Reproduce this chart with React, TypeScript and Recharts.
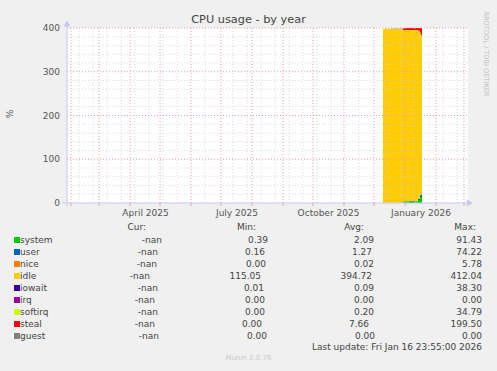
import React from 'react';
import {
    AreaChart,
    Area,
    XAxis,
    YAxis,
    ReferenceLine,
    ReferenceDot,
} from 'recharts';

// x values are days counted from 1 Feb 2025 (one pixel per day in the original)
const days = [312, 320, 326, 332, 338, 344, 347, 349, 350, 351];
const system = [0.4, 0.4, 0.5, 3.4, 3.6, 3.5, 7.0, 12.0, 14.0, 14.0];
const user = [0.2, 0.2, 0.3, 0.6, 0.7, 0.6, 3.0, 6.0, 8.0, 8.0];
const nice = [0, 0, 0, 0, 0.02, 0, 0, 0.1, 0, 0];
const idle = [397.5, 397.4, 397.2, 391.5, 391.2, 391.4, 383.0, 370.0, 360.0, 360.0];
const iowait = [0.01, 0.02, 0.02, 0.05, 0.06, 0.05, 0.2, 0.8, 1.0, 1.0];
const irq = [0, 0, 0, 0, 0, 0, 0, 0, 0, 0];
const softirq = [0, 0, 0, 0.1, 0.1, 0.1, 0.3, 0.6, 0.8, 0.8];
const steal = [0, 0, 0, 4.3, 4.3, 4.3, 6.5, 10.5, 16.0, 16.0];
const guest = [0, 0, 0, 0, 0, 0, 0, 0, 0, 0];

const seriesNames = ['system', 'user', 'nice', 'idle', 'iowait', 'irq', 'softirq', 'steal', 'guest'];
const seriesColors = ['#00cc00', '#0066b3', '#ff8000', '#ffcc00', '#330099', '#990099', '#ccff00', '#ff0000', '#808080'];
const curValues = ['-nan', '-nan', '-nan', '-nan', '-nan', '-nan', '-nan', '-nan', '-nan'];
const minValues = ['0.39', '0.16', '0.00', '115.05', '0.01', '0.00', '0.00', '0.00', '0.00'];
const avgValues = ['2.09', '1.27', '0.02', '394.72', '0.09', '0.00', '0.20', '7.66', '0.00'];
const maxValues = ['91.43', '74.22', '5.78', '412.04', '38.30', '0.00', '34.79', '199.50', '0.00'];

// axis labels sit mid-month, grid lines on month starts
const xLabelDays = [74.5, 166, 257.5, 350];
const xLabels = ['April 2025', 'July 2025', 'October 2025', 'January 2026'];
const monthStarts = [0, 28, 59, 89, 120, 150, 181, 212, 242, 273, 303, 334, 365, 393];
const minorDays = [8, 22, 36, 50, 64, 78, 92, 106, 134, 162, 176, 190, 204, 218, 232, 246, 260, 288, 316, 330, 344, 358, 372, 386];
const yTicks = [0, 100, 200, 300, 400];
const yMinor = [20, 40, 60, 80, 120, 140, 160, 180, 220, 240, 260, 280, 320, 340, 360, 380];

// legend layout (right edges of the columns, per row, as rrdtool puts them)
const curRight = [162, 158, 157, 150, 158, 155, 158, 155, 159];
const minRight = [268, 265, 266, 261, 264, 265, 265, 262, 267];
const avgRight = [374, 372, 374, 372, 374, 374, 374, 369, 375];

const data = days.map((d, i) => ({
    day: d,
    system: system[i],
    user: user[i],
    nice: nice[i],
    idle: idle[i],
    iowait: iowait[i],
    irq: irq[i],
    softirq: softirq[i],
    steal: steal[i],
    guest: guest[i],
}));

const W = 497;
const H = 371;
const AXIS = '#c6c6f2';
const MAJOR = '#e8a0a0';
const MINOR = '#cfcfcf';

const Txt = ({right, left, cy, children, size = 9, color = '#444'}: any) => (
    <div
        style={{
            position: 'absolute',
            top: cy - 6,
            lineHeight: '12px',
            fontSize: size,
            color,
            whiteSpace: 'nowrap',
            ...(right !== undefined ? {right: W - right} : {left}),
        }}
    >
        {children}
    </div>
);

export default function App() {
    const rowY = (i: number) => 239.5 + i * 12;
    return (
        <div
            style={{
                position: 'relative',
                width: W,
                height: H,
                background: '#f0f0f0',
                overflow: 'hidden',
                fontFamily: '"DejaVu Sans", sans-serif',
            }}
        >
            <style>{'body{margin:0}'}</style>
            <div style={{position: 'absolute', left: 67, top: 28, width: 401, height: 175, background: '#fff'}} />
            <div style={{position: 'absolute', left: 0, top: 0}}>
                <AreaChart
                    width={W}
                    height={H}
                    data={data}
                    margin={{top: 28, right: 29, left: 27, bottom: 154}}
                >
                    <XAxis
                        type="number"
                        dataKey="day"
                        domain={[-4, 397]}
                        allowDataOverflow
                        ticks={xLabelDays}
                        interval={0}
                        tickFormatter={(v: number) => xLabels[xLabelDays.indexOf(v)]}
                        axisLine={false}
                        tickLine={false}
                        tickSize={4}
                        tickMargin={3}
                        height={14}
                        tick={{fill: '#555', fontSize: 9}}
                    />
                    <YAxis
                        type="number"
                        domain={[0, 400]}
                        allowDataOverflow
                        ticks={yTicks}
                        interval={0}
                        axisLine={false}
                        tickLine={false}
                        tickSize={4}
                        tickMargin={3}
                        width={40}
                        tick={{fill: '#555', fontSize: 9}}
                    />
                    {seriesNames.map((name, i) => (
                        <Area
                            key={name}
                            type="stepAfter"
                            dataKey={name}
                            stackId="cpu"
                            stroke="none"
                            fill={seriesColors[i]}
                            fillOpacity={1}
                            dot={false}
                            activeDot={false}
                            isAnimationActive={false}
                        />
                    ))}
                    {yMinor.map((v) => (
                        <ReferenceLine key={'ym' + v} y={v} stroke={MINOR} strokeOpacity={0.8} strokeDasharray="1 2" />
                    ))}
                    {minorDays.map((d) => (
                        <ReferenceLine key={'xm' + d} x={d} stroke={MINOR} strokeOpacity={0.8} strokeDasharray="1 2" />
                    ))}
                    {yTicks.slice(1).map((v) => (
                        <ReferenceLine key={'yM' + v} y={v} stroke={MAJOR} strokeDasharray="1 2" />
                    ))}
                    {monthStarts.map((d) => (
                        <ReferenceLine key={'xM' + d} x={d} stroke={MAJOR} strokeDasharray="1 2" />
                    ))}
                    {monthStarts.map((d) => (
                        <ReferenceLine
                            key={'xt' + d}
                            segment={[{x: d, y: -7}, {x: d, y: 0}]}
                            stroke={MAJOR}
                            ifOverflow="visible"
                        />
                    ))}
                    <ReferenceLine segment={[{x: -9, y: 0}, {x: 397, y: 0}]} stroke={AXIS} ifOverflow="visible" />
                    <ReferenceLine segment={[{x: -4, y: -8}, {x: -4, y: 405}]} stroke={AXIS} ifOverflow="visible" />
                    <ReferenceDot
                        x={402}
                        y={0}
                        r={3}
                        ifOverflow="visible"
                        shape={(p: any) => <path d={`M${p.cx},${p.cy} l-6,-3.5 l0,7 z`} fill={AXIS} />}
                    />
                    <ReferenceDot
                        x={-4}
                        y={417}
                        r={3}
                        ifOverflow="visible"
                        shape={(p: any) => <path d={`M${p.cx},${p.cy} l-3.5,6 l7,0 z`} fill={AXIS} />}
                    />
                </AreaChart>
            </div>

            <div
                style={{
                    position: 'absolute',
                    left: 0,
                    width: W,
                    top: 13,
                    textAlign: 'center',
                    fontSize: 11.3,
                    lineHeight: '14px',
                    color: '#444',
                }}
            >
                CPU usage - by year
            </div>
            <div
                style={{
                    position: 'absolute',
                    left: 10,
                    top: 114,
                    fontSize: 9,
                    color: '#555',
                    transform: 'translate(-50%, -50%) rotate(-90deg)',
                }}
            >
                %
            </div>
            <div
                style={{
                    position: 'absolute',
                    left: 486,
                    top: 54,
                    fontSize: 6.6,
                    color: '#c0c0c0',
                    whiteSpace: 'nowrap',
                    transform: 'translate(-50%, -50%) rotate(90deg)',
                }}
            >
                RRDTOOL / TOBI OETIKER
            </div>

            <Txt right={146} cy={227}>Cur:</Txt>
            <Txt right={256} cy={227}>Min:</Txt>
            <Txt right={364} cy={227}>Avg:</Txt>
            <Txt right={476} cy={227}>Max:</Txt>
            {seriesNames.map((name, i) => (
                <React.Fragment key={name}>
                    <div
                        style={{
                            position: 'absolute',
                            left: 14,
                            top: rowY(i) - 3,
                            width: 6,
                            height: 6,
                            background: seriesColors[i],
                        }}
                    />
                    <Txt left={20} cy={rowY(i)}>{name}</Txt>
                    <Txt right={curRight[i]} cy={rowY(i)}>{curValues[i]}</Txt>
                    <Txt right={minRight[i]} cy={rowY(i)}>{minValues[i]}</Txt>
                    <Txt right={avgRight[i]} cy={rowY(i)}>{avgValues[i]}</Txt>
                    <Txt right={482} cy={rowY(i)}>{maxValues[i]}</Txt>
                </React.Fragment>
            ))}
            <Txt right={482} cy={347}>Last update: Fri Jan 16 23:55:00 2026</Txt>
            <div
                style={{
                    position: 'absolute',
                    left: 0,
                    width: W,
                    top: 354,
                    textAlign: 'center',
                    fontSize: 7,
                    lineHeight: '9px',
                    color: '#c8c8c8',
                }}
            >
                Munin 2.0.76
            </div>
        </div>
    );
}
